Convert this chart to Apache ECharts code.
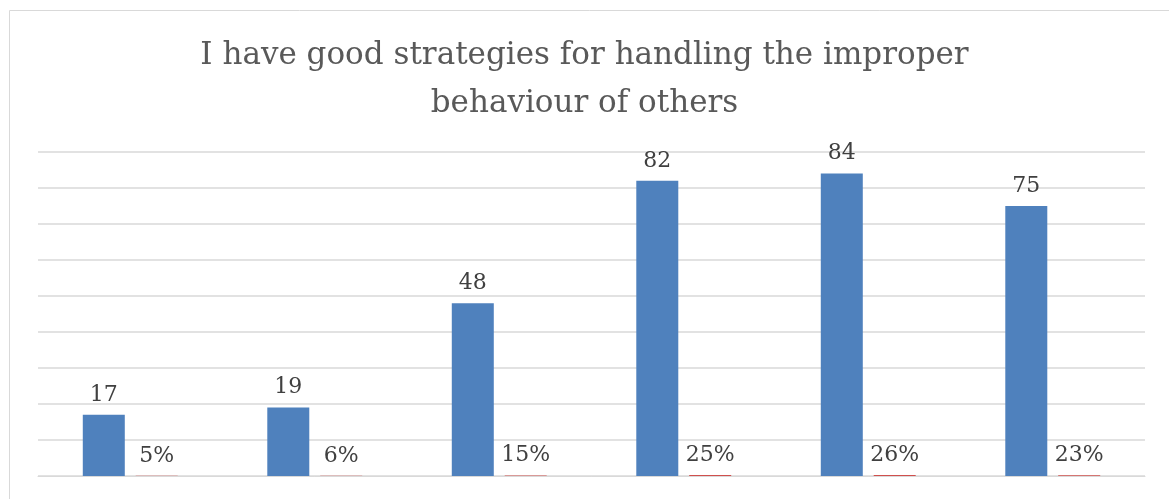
<!DOCTYPE html>
<html>
    <head>
        <meta charset="utf-8">
        <style>
            html, body { margin: 0; padding: 0; background: #fff; }
        </style>
    </head>
    <body>
        <div id="main" style="width:1169px;height:499px"></div>
        <script src="https://cdnjs.cloudflare.com/ajax/libs/echarts/6.0.0/echarts.min.js"></script>
        <script type="text/javascript">
            // chart data
            var categories = ['1', '2', '3', '4', '5', '6']
            var counts = [17, 19, 48, 82, 84, 75]
            var shares = [0.05, 0.06, 0.15, 0.25, 0.26, 0.23]

            var labelFont = 'DejaVu Serif'

            var option = {
                animation: false,
                title: {
                    text: 'I have good strategies for handling the improper\nbehaviour of others',
                    left: 'center',
                    top: 27,
                    textStyle: {
                        fontFamily: labelFont,
                        fontSize: 31,
                        fontWeight: 'normal',
                        color: '#595959',
                        lineHeight: 48
                    }
                },
                graphic: [{
                    type: 'rect',
                    shape: { x: 9.5, y: 10.5, width: 1200, height: 600 },
                    style: { fill: 'none', stroke: '#d9d9d9', lineWidth: 1 },
                    silent: true
                }],
                grid: {
                    left: 38,
                    right: 24,
                    top: 152,
                    bottom: 23
                },
                xAxis: {
                    type: 'category',
                    data: categories,
                    axisLine: { show: true, lineStyle: { color: '#d9d9d9', width: 1 } },
                    axisTick: { show: false },
                    axisLabel: { show: false }
                },
                yAxis: {
                    type: 'value',
                    min: 0,
                    max: 90,
                    interval: 10,
                    axisLabel: { show: false },
                    axisLine: { show: false },
                    axisTick: { show: false },
                    splitLine: { lineStyle: { color: '#d9d9d9', width: 1.5 } }
                },
                series: [{
                    name: 'Count',
                    type: 'bar',
                    data: counts,
                    barWidth: 42,
                    barGap: '26%',
                    itemStyle: { color: '#4f81bd' },
                    label: {
                        show: true,
                        position: 'top',
                        distance: 9,
                        fontFamily: labelFont,
                        fontSize: 22,
                        color: '#404040'
                    }
                }, {
                    name: 'Share',
                    type: 'bar',
                    data: shares,
                    barWidth: 42,
                    z: 5,
                    itemStyle: { color: '#d0504d' },
                    label: {
                        show: true,
                        position: 'top',
                        distance: 9,
                        fontFamily: labelFont,
                        fontSize: 22,
                        color: '#404040',
                        formatter: function (p) {
                            return Math.round(p.value * 100) + '%'
                        }
                    }
                }]
            }

            var mycharts = echarts.init(document.getElementById('main'))
            mycharts.setOption(option)
        </script>
    </body>
</html>
